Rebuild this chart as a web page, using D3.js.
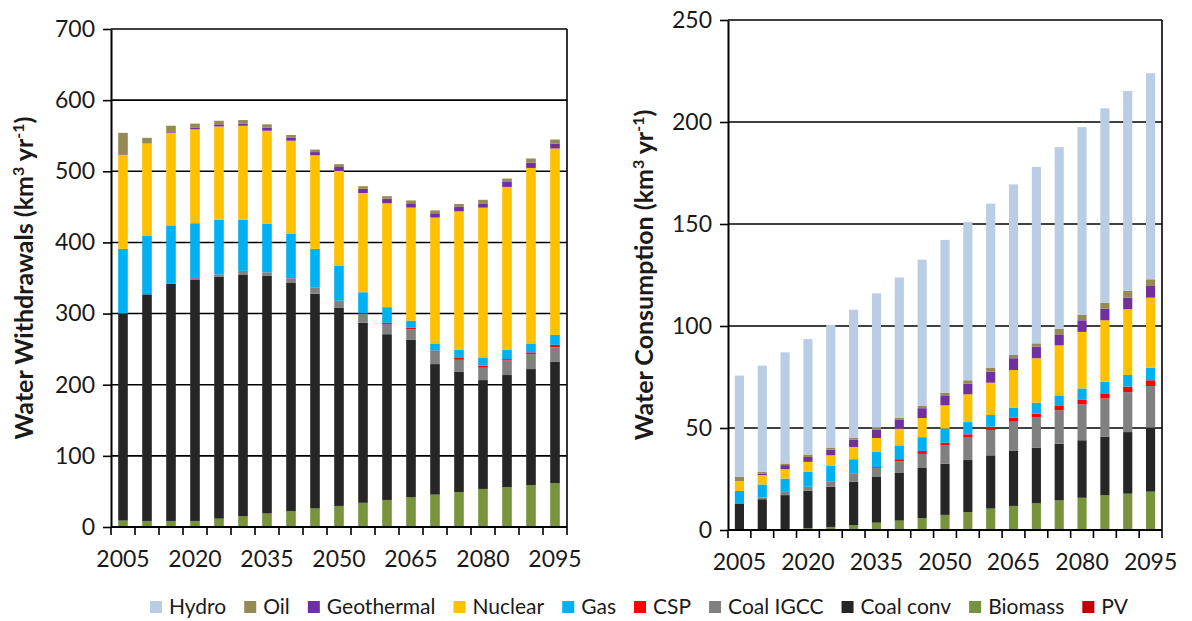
<!DOCTYPE html>
<html>
<head>
<meta charset="utf-8">
<script src="https://cdnjs.cloudflare.com/ajax/libs/d3/7.8.5/d3.min.js"></script>
<style>
  body { margin: 0; background: #fff; }
  text { font-family: Lato, "Open Sans", sans-serif; fill: #1a1a1a; }
</style>
</head>
<body>
<div id="svgcontainer"></div>
<script>
var width = 1192;
var height = 621;

var years = [2005, 2010, 2015, 2020, 2025, 2030, 2035, 2040, 2045, 2050,
             2055, 2060, 2065, 2070, 2075, 2080, 2085, 2090, 2095];
var xTickLabels = [2005, 2020, 2035, 2050, 2065, 2080, 2095];

// stack order, bottom -> top
var seriesNames = ["PV", "Biomass", "Coal conv", "Coal IGCC", "CSP", "Gas", "Nuclear", "Geothermal", "Oil", "Hydro"];
var seriesColors = ["#C00000", "#77933C", "#262626", "#808080", "#FF0000", "#00B0F0", "#FFC000", "#7030A0", "#948A54", "#B9CDE5"];
var legendOrder = ["Hydro", "Oil", "Geothermal", "Nuclear", "Gas", "CSP", "Coal IGCC", "Coal conv", "Biomass", "PV"];

// water withdrawals (km3/yr)
var wPV         = [0, 0, 0, 0, 0, 0, 0, 0, 0, 0, 0, 0, 0, 0, 0, 0, 0, 0, 0];
var wBiomass    = [9, 8.5, 8.5, 8.5, 11.7, 15, 19, 22.5, 26, 29.6, 34, 38, 42, 45.5, 49, 53.5, 56, 58.7, 61.5];
var wCoalConv   = [291, 318.5, 333.5, 339.5, 340.3, 340, 334.5, 320.5, 302, 278.4, 253, 233, 221, 183.5, 169, 153, 157.6, 163.3, 170.5];
var wCoalIGCC   = [0, 0, 1, 2, 3, 5, 4.5, 6, 8, 9, 12.5, 14.4, 15, 17.5, 17, 17.4, 20.4, 21, 20.6];
var wCSP        = [0, 0, 0, 0, 0, 0, 0, 0.5, 0.5, 1, 1, 1.6, 2, 1.5, 2.6, 3, 2, 2.5, 3.4];
var wGas        = [91, 82, 81, 77, 77, 72, 68, 62.5, 54.5, 49, 29.5, 22, 10, 10, 11.4, 11.5, 13, 12.5, 14];
var wNuclear    = [132, 130, 130, 132, 131, 132, 131, 131, 131.5, 133.5, 139.5, 146, 159, 177, 194.7, 210.5, 229, 246.7, 262];
var wGeothermal = [0, 0, 1, 2, 3, 3, 4.5, 4, 4.5, 5.5, 6, 6.5, 6, 6, 6.3, 6, 7, 7.3, 7];
var wOil        = [31, 8, 9, 6, 5, 5, 4.5, 4, 3.5, 4, 3.5, 3.5, 4, 4, 4, 5, 4.7, 6, 5.6];
var wHydro      = [0, 0, 0, 0, 0, 0, 0, 0, 0, 0, 0, 0, 0, 0, 0, 0, 0, 0, 0];
var wTicks = [0, 100, 200, 300, 400, 500, 600, 700];

// water consumption (km3/yr)
var cPV         = [0, 0, 0, 0, 0, 0, 0, 0, 0, 0, 0, 0, 0, 0, 0, 0, 0, 0, 0];
var cBiomass    = [0, 0.3, 0.5, 0.8, 1.5, 2.4, 3.6, 4.6, 5.8, 7.4, 8.8, 10.5, 11.8, 13.1, 14.5, 15.8, 17, 17.8, 18.8];
var cCoalConv   = [13, 14.8, 16.6, 18.4, 19.7, 21.2, 22.4, 23.6, 24.6, 25.1, 25.5, 26.1, 27.2, 27.3, 27.8, 28.2, 28.8, 30.2, 31.4];
var cCoalIGCC   = [0, 0.9, 1.6, 2.0, 2.7, 3.8, 4.5, 5.5, 6.9, 9.2, 11, 12.4, 14.1, 15, 16.4, 17.6, 18.7, 19.6, 20.4];
var cCSP        = [0, 0, 0, 0, 0, 0.3, 0.4, 1, 1.4, 1.1, 1.6, 1.7, 1.9, 1.6, 2.1, 2.4, 2.5, 2.7, 2.8];
var cGas        = [6.2, 6.3, 6.5, 7.3, 7.5, 7.0, 7.4, 6.8, 6.8, 6.9, 6, 5.7, 5, 5.4, 5.2, 5.4, 5.7, 5.7, 6.2];
var cNuclear    = [4.8, 4.6, 4.6, 4.9, 5.2, 6.0, 6.8, 8.2, 9.4, 11.4, 13.6, 15.8, 18.4, 21.8, 24.5, 27.7, 30.1, 32.2, 34.3];
var cGeothermal = [0, 0.8, 2.0, 2.4, 2.8, 3.6, 4.2, 4.5, 4.8, 4.9, 5.2, 5.4, 5.8, 5.7, 5.4, 5.7, 5.7, 5.7, 5.7];
var cOil        = [2, 0.8, 0.8, 1.2, 1.0, 1.0, 0.9, 0.8, 1.3, 1.3, 1.7, 2.0, 1.6, 1.6, 2.8, 2.6, 2.9, 3.3, 3.3];
var cHydro      = [49.7, 52.1, 54.5, 56.6, 60.1, 62.7, 65.8, 68.8, 71.5, 74.9, 77.6, 80.4, 83.6, 86.5, 89, 92.1, 95.3, 98, 101];
var cTicks = [0, 50, 100, 150, 200, 250];

function buildRows(cols){
  // cols in the same order as seriesNames
  return years.map(function(y, i){
    var row = { year: y };
    seriesNames.forEach(function(n, k){ row[n] = cols[k][i]; });
    return row;
  });
}

function drawPanel(svg, rows, ticks, box, title, titleX){
  var x = d3.scaleBand()
    .domain(years)
    .range([box.x0, box.x1])
    .paddingInner(0.6)
    .paddingOuter(0.3);

  var y = d3.scaleLinear()
    .domain([0, ticks[ticks.length - 1]])
    .range([box.y1, box.y0]);

  // gridlines
  svg.append("g").selectAll("line")
    .data(ticks.slice(1))
    .enter().append("line")
    .attr("x1", box.x0).attr("x2", box.x1)
    .attr("y1", function(d){ return y(d); })
    .attr("y2", function(d){ return y(d); })
    .style("stroke", "#000")
    .style("stroke-width", 1.6);

  // right border
  svg.append("line")
    .attr("x1", box.x1).attr("x2", box.x1)
    .attr("y1", box.y0).attr("y2", box.y1)
    .style("stroke", "#000")
    .style("stroke-width", 1.6);

  // bars
  var stack = d3.stack().keys(seriesNames);
  var layers = stack(rows);
  svg.append("g").selectAll("g")
    .data(layers)
    .enter().append("g")
    .attr("fill", function(d, i){ return seriesColors[i]; })
    .selectAll("rect")
    .data(function(d){ return d; })
    .enter().append("rect")
    .attr("x", function(d){ return x(d.data.year); })
    .attr("width", x.bandwidth())
    .attr("y", function(d){ return y(d[1]); })
    .attr("height", function(d){ return Math.max(0, y(d[0]) - y(d[1])); });

  // y axis
  var yAxis = svg.append("g")
    .attr("transform", "translate(" + box.x0 + ",0)")
    .call(d3.axisLeft(y).tickValues(ticks).tickSize(8).tickPadding(8).tickSizeOuter(0));
  yAxis.select(".domain").style("stroke", "#000").style("stroke-width", 2);
  yAxis.selectAll(".tick line").style("stroke", "#000").style("stroke-width", 1.6);
  yAxis.selectAll("text").style("font-size", "23px").style("font-family", "Lato, 'Open Sans', sans-serif").attr("fill", "#1a1a1a");

  // x axis line
  svg.append("line")
    .attr("x1", box.x0).attr("x2", box.x1)
    .attr("y1", box.y1).attr("y2", box.y1)
    .style("stroke", "#000")
    .style("stroke-width", 2);

  // tick marks between categories
  var step = x.step();
  var edges = years.map(function(yr){ return x(yr) - (step - x.bandwidth()) / 2; });
  edges.push(box.x1);
  svg.append("g").selectAll("line")
    .data(edges)
    .enter().append("line")
    .attr("x1", function(d){ return d; }).attr("x2", function(d){ return d; })
    .attr("y1", box.y1).attr("y2", box.y1 + 8)
    .style("stroke", "#000")
    .style("stroke-width", 1.6);

  // x labels
  svg.append("g").selectAll("text")
    .data(xTickLabels)
    .enter().append("text")
    .attr("x", function(d){ return x(d) + x.bandwidth() / 2; })
    .attr("y", box.y1 + 40)
    .attr("text-anchor", "middle")
    .style("font-size", "23px")
    .text(function(d){ return d; });

  // y title
  var t = svg.append("text")
    .attr("transform", "translate(" + titleX + "," + ((box.y0 + box.y1) / 2) + ") rotate(-90)")
    .attr("text-anchor", "middle")
    .style("font-size", "25px")
    .style("font-weight", "bold");
  t.append("tspan").text(title + " (km");
  t.append("tspan").text("3").attr("dy", -9).style("font-size", "16px");
  t.append("tspan").text(" yr").attr("dy", 9);
  t.append("tspan").text("-1").attr("dy", -9).style("font-size", "16px");
  t.append("tspan").text(")").attr("dy", 9);
}

function drawLegend(svg){
  var xPos = 150;
  var yc = 607;
  legendOrder.forEach(function(name){
    var k = seriesNames.indexOf(name);
    svg.append("rect")
      .attr("x", xPos).attr("y", yc - 6)
      .attr("width", 12).attr("height", 12)
      .attr("fill", seriesColors[k]);
    var t = svg.append("text")
      .attr("x", xPos + 19)
      .attr("y", yc + 7)
      .style("font-size", "21px")
      .text(name);
    xPos = xPos + 19 + t.node().getComputedTextLength() + 18;
  });
}

var svg = d3.select("#svgcontainer")
  .append("svg")
  .attr("width", width)
  .attr("height", height);

var wRows = buildRows([wPV, wBiomass, wCoalConv, wCoalIGCC, wCSP, wGas, wNuclear, wGeothermal, wOil, wHydro]);
var cRows = buildRows([cPV, cBiomass, cCoalConv, cCoalIGCC, cCSP, cGas, cNuclear, cGeothermal, cOil, cHydro]);

drawPanel(svg, wRows, wTicks, { x0: 111, x1: 567, y0: 29, y1: 527 }, "Water Withdrawals", 33);
drawPanel(svg, cRows, cTicks, { x0: 728, x1: 1162, y0: 20, y1: 530 }, "Water Consumption", 653);
drawLegend(svg);
</script>
</body>
</html>
